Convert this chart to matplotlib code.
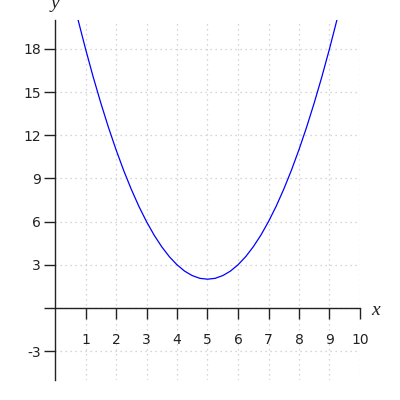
import matplotlib

matplotlib.use("Agg")
import matplotlib.pyplot as plt

# curve samples (vertex at x=5, y=2)
xs = [0.5, 0.75, 1.0, 1.25, 1.5, 1.75, 2.0, 2.25, 2.5, 2.75, 3.0, 3.25, 3.5,
      3.75, 4.0, 4.25, 4.5, 4.75, 5.0, 5.25, 5.5, 5.75, 6.0, 6.25, 6.5, 6.75,
      7.0, 7.25, 7.5, 7.75, 8.0, 8.25, 8.5, 8.75, 9.0, 9.25, 9.5]
ys = [22.25, 20.06, 18.0, 16.06, 14.25, 12.56, 11.0, 9.56, 8.25, 7.06, 6.0,
      5.06, 4.25, 3.56, 3.0, 2.56, 2.25, 2.06, 2.0, 2.06, 2.25, 2.56, 3.0,
      3.56, 4.25, 5.06, 6.0, 7.06, 8.25, 9.56, 11.0, 12.56, 14.25, 16.06,
      18.0, 20.06, 22.25]

x_ticks = [1, 2, 3, 4, 5, 6, 7, 8, 9, 10]
y_ticks = [-3, 0, 3, 6, 9, 12, 15, 18]
y_labels = ["-3", "", "3", "6", "9", "12", "15", "18"]

fig = plt.figure(figsize=(4, 4), dpi=100)
ax = fig.add_axes([0.1375, 0.05, 0.7625, 0.9])

ax.plot(xs, ys, color="blue", lw=0.9)

ax.set_xlim(0, 10)
ax.set_ylim(-5, 20)

ax.spines["top"].set_visible(False)
ax.spines["right"].set_visible(False)
ax.spines["bottom"].set_position(("data", 0))
for s in ("left", "bottom"):
    ax.spines[s].set_color("#222222")
    ax.spines[s].set_linewidth(1.0)

ax.set_xticks(x_ticks)
ax.set_xticklabels([str(t) for t in x_ticks])
ax.set_yticks(y_ticks)
ax.set_yticklabels(y_labels)
ax.tick_params(axis="x", direction="out", length=8, width=1, pad=10,
               labelsize=10, colors="#222222")
ax.tick_params(axis="y", direction="out", length=8, width=1, pad=2,
               labelsize=10, colors="#222222")

ax.grid(True, color="#c8c8c8", linestyle=(0, (1, 3)), linewidth=0.9)
ax.set_axisbelow(True)

ax.annotate("x", xy=(10, 0), xytext=(8, -2), textcoords="offset points",
            ha="left", va="center", fontsize=14, style="italic",
            family="Liberation Serif", color="#222222", annotation_clip=False)
ax.annotate("y", xy=(0, 20), xytext=(0, 6), textcoords="offset points",
            ha="center", va="bottom", fontsize=14, style="italic",
            family="Liberation Serif", color="#222222", annotation_clip=False)

fig.savefig("out.png", dpi=100)
